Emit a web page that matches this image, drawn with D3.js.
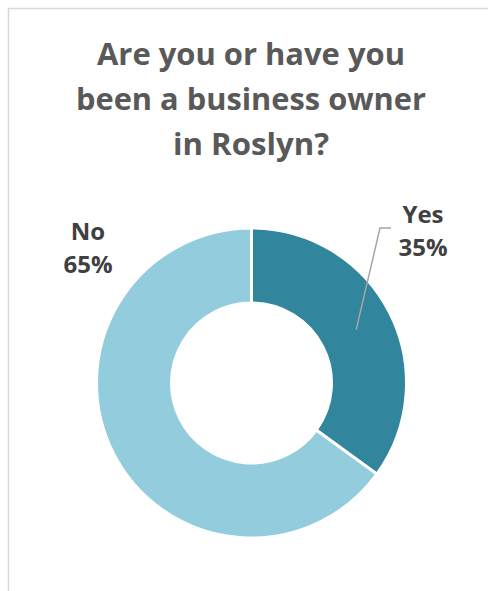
<!DOCTYPE html>
<html>
<head>
<meta charset="utf-8">
<script src="https://cdn.jsdelivr.net/npm/d3@7"></script>
<style>
  html, body { margin: 0; padding: 0; background: #fff; }
  svg { display: block; }
</style>
</head>
<body>
<svg id="chart" width="488" height="591"></svg>
<script>
// Survey answers and their shares (%)
const categories = ["Yes", "No"];
const shares = [35, 65];
const titleLines = ["Are you or have you", "been a business owner", "in Roslyn?"];

const colors = d3.scaleOrdinal().domain(categories).range(["#31859c", "#93cddd"]);

const svg = d3.select("#chart");
const W = 488, H = 591;

// chart area outline
svg.append("rect")
  .attr("x", 8.5).attr("y", 8.5)
  .attr("width", W + 10).attr("height", H + 10)
  .attr("fill", "#fff")
  .attr("stroke", "#d9d9d9")
  .attr("stroke-width", 1.5);

const FONT = "'Open Sans', Lato, sans-serif";

// title, three centred lines
const titleWidths = [308, 350, 156];
const title = svg.append("g");
titleLines.forEach((line, i) => {
  title.append("text")
    .attr("x", 251)
    .attr("y", 65 + i * 45)
    .attr("text-anchor", "middle")
    .attr("font-family", FONT)
    .attr("font-weight", "bold")
    .attr("font-size", 31)
    .attr("fill", "#595959")
    .attr("textLength", titleWidths[i])
    .attr("lengthAdjust", "spacingAndGlyphs")
    .text(line);
});

// donut
const cx = 251.5, cy = 383;
const outerR = 155, innerR = 80;
const data = categories.map((c, i) => ({ cat: c, value: shares[i] }));
const pie = d3.pie().sort(null).value(d => d.value);
const arc = d3.arc().innerRadius(innerR).outerRadius(outerR);
const arcs = pie(data);

const g = svg.append("g").attr("transform", `translate(${cx},${cy})`);
g.selectAll("path.slice")
  .data(arcs)
  .join("path")
  .attr("class", "slice")
  .attr("d", arc)
  .attr("fill", d => colors(d.data.cat))
  .attr("stroke", "#fff")
  .attr("stroke-width", 3)
  .attr("stroke-linejoin", "miter");

// data labels
const labelPos = {
  Yes: { x: 423, y: 223, w: [40, 48] },
  No: { x: 88, y: 240, w: [32, 48] }
};
arcs.forEach(d => {
  const p = labelPos[d.data.cat];
  const t = svg.append("text")
    .attr("x", p.x).attr("y", p.y)
    .attr("text-anchor", "middle")
    .attr("font-family", FONT)
    .attr("font-weight", "bold")
    .attr("font-size", 24)
    .attr("fill", "#404040");
  t.append("tspan").attr("x", p.x).attr("dy", 0).text(d.data.cat);
  t.append("tspan").attr("x", p.x).attr("dy", 33).text(d.data.value + "%");
});

// leader line for the "Yes" label, ending at the slice centroid
const yesArc = arcs[0];
const c = arc.centroid(yesArc);
svg.append("path")
  .attr("d", d3.line()([[391, 228], [380, 228], [cx + c[0], cy + c[1]]]))
  .attr("fill", "none")
  .attr("stroke", "#a6a6a6")
  .attr("stroke-width", 1.5);
</script>
</body>
</html>
